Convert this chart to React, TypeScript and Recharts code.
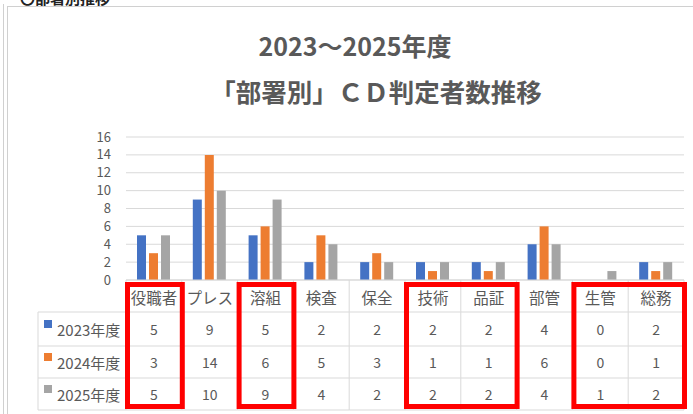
import React from 'react';
import { BarChart, Bar, XAxis, YAxis, CartesianGrid } from 'recharts';

const categories = ['役職者', 'プレス', '溶組', '検査', '保全', '技術', '品証', '部管', '生管', '総務'];
const seriesNames = ['2023年度', '2024年度', '2025年度'];
const values2023 = [5, 9, 5, 2, 2, 2, 2, 4, 0, 2];
const values2024 = [3, 14, 6, 5, 3, 1, 1, 6, 0, 1];
const values2025 = [5, 10, 9, 4, 2, 2, 2, 4, 1, 2];
const yTicks = [0, 2, 4, 6, 8, 10, 12, 14, 16];
// highlighted column groups (first, last)
const highlights: [number, number][] = [[0, 0], [2, 2], [5, 6], [8, 9]];

const colors = ['#4472C4', '#ED7D31', '#A5A5A5'];
const seriesValues = [values2023, values2024, values2025];

const data = categories.map((name, i) => ({
  name,
  y2023: values2023[i],
  y2024: values2024[i],
  y2025: values2025[i],
}));

const W = 693;
const H = 414;
const PLOT_LEFT = 126;
const PLOT_RIGHT = 9;
const PLOT_TOP = 137;
const AXIS_H = 134;
const PLOT_BOTTOM = H - AXIS_H;
const BAND = (W - PLOT_LEFT - PLOT_RIGHT) / categories.length;
const ROWS = [312, 346, 378, 410];
const LEGEND_LEFT = 38;
const TEXT = '#595959';
const GRID = '#d9d9d9';
const FONT = '"Noto Sans CJK JP", "Noto Sans", sans-serif';

const TableTick = (props: any) => {
  const { x, payload } = props;
  const index = payload.index;
  const left = x - BAND / 2;
  const right = x + BAND / 2;
  const rowCenters = [329, 362, 394];
  return (
    <g>
      <line x1={left} x2={left} y1={PLOT_BOTTOM} y2={ROWS[3]} stroke={GRID} />
      {index === categories.length - 1 && (
        <line x1={right} x2={right} y1={PLOT_BOTTOM} y2={ROWS[3]} stroke={GRID} />
      )}
      {ROWS.map((ry) => (
        <line key={ry} x1={left} x2={right} y1={ry} y2={ry} stroke={GRID} />
      ))}
      <text x={x} y={297} textAnchor="middle" dominantBaseline="central" fontSize={15.5} fill={TEXT} fontFamily={FONT}>
        {payload.value}
      </text>
      {seriesValues.map((vals, r) => (
        <text key={r} x={x} y={rowCenters[r]} textAnchor="middle" dominantBaseline="central" fontSize={14} fill={TEXT} fontFamily={FONT}>
          {vals[index]}
        </text>
      ))}
      {index === 0 && (
        <g>
          <line x1={LEGEND_LEFT} x2={LEGEND_LEFT} y1={ROWS[0]} y2={ROWS[3]} stroke={GRID} />
          {ROWS.map((ry) => (
            <line key={ry} x1={LEGEND_LEFT} x2={left} y1={ry} y2={ry} stroke={GRID} />
          ))}
          {seriesNames.map((s, r) => (
            <g key={s}>
              <rect x={44} y={rowCenters[r] - 9} width={8} height={8} fill={colors[r]} />
              <text x={57} y={rowCenters[r]} dominantBaseline="central" fontSize={15} fill={TEXT} fontFamily={FONT}>
                {s}
              </text>
            </g>
          ))}
        </g>
      )}
    </g>
  );
};

export default function App() {
  return (
    <div style={{ position: 'relative', width: W, height: H, background: '#fff', overflow: 'hidden' }}>
      <style>{'body{margin:0}'}</style>
      <BarChart
        width={W}
        height={H}
        data={data}
        margin={{ top: PLOT_TOP, right: PLOT_RIGHT, bottom: 0, left: 0 }}
        barSize={9}
        barGap={3}
      >
        <CartesianGrid vertical={false} stroke={GRID} />
        <YAxis
          width={PLOT_LEFT}
          domain={[0, 16]}
          ticks={yTicks}
          interval={0}
          axisLine={false}
          tickLine={false}
          tickSize={0}
          tickMargin={15}
          tick={{ fill: TEXT, fontSize: 13, fontFamily: FONT }}
        />
        <XAxis
          dataKey="name"
          height={AXIS_H}
          interval={0}
          axisLine={{ stroke: GRID }}
          tickLine={false}
          tick={<TableTick />}
        />
        <Bar dataKey="y2023" fill={colors[0]} isAnimationActive={false} />
        <Bar dataKey="y2024" fill={colors[1]} isAnimationActive={false} />
        <Bar dataKey="y2025" fill={colors[2]} isAnimationActive={false} />
      </BarChart>
      <svg width={W} height={H} style={{ position: 'absolute', left: 0, top: 0, pointerEvents: 'none' }}>
        <text x={20} y={4} fontSize={15} fontWeight="bold" fill="#222" fontFamily={FONT}>〇部署別推移</text>
        <line x1={3.5} x2={3.5} y1={4} y2={H} stroke="#d0d0d0" />
        <line x1={7.5} x2={7.5} y1={6} y2={H} stroke="#d0d0d0" />
        <line x1={7} x2={W} y1={6.5} y2={6.5} stroke="#d0d0d0" />
        <text x={355} y={45} textAnchor="middle" dominantBaseline="central" fontSize={25} fontWeight="bold" fill={TEXT} fontFamily={FONT}>
          2023～2025年度
        </text>
        <text x={376} y={90} textAnchor="middle" dominantBaseline="central" fontSize={25.5} fontWeight="bold" fill={TEXT} fontFamily={FONT}>
          「部署別」ＣＤ判定者数推移
        </text>
        {highlights.map(([a, b]) => {
          const x1 = PLOT_LEFT + BAND * a;
          const x2 = PLOT_LEFT + BAND * (b + 1);
          return (
            <rect
              key={a}
              x={x1 + 1.5}
              y={284.5}
              width={x2 - x1 - 1}
              height={122}
              fill="none"
              stroke="#FF0000"
              strokeWidth={5}
            />
          );
        })}
      </svg>
    </div>
  );
}
